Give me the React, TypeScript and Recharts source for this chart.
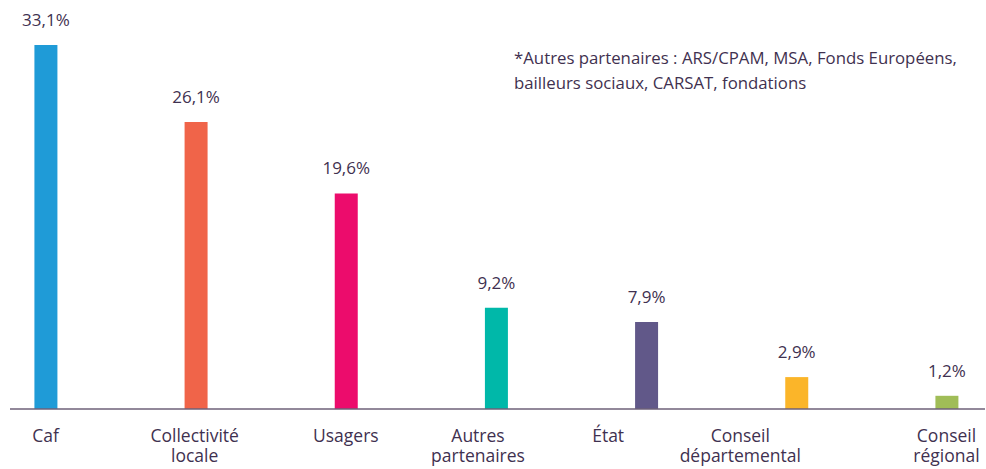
import { Bar, BarChart, Cell, LabelList, XAxis, YAxis } from 'recharts';

const categories = [
  ['Caf'],
  ['Collectivité', 'locale'],
  ['Usagers'],
  ['Autres', 'partenaires'],
  ['État'],
  ['Conseil', 'départemental'],
  ['Conseil', 'régional'],
];
const shares = [33.1, 26.1, 19.6, 9.2, 7.9, 2.9, 1.2];
const colors = ['#1f9bd7', '#f06449', '#ec0c6c', '#00b8a9', '#615889', '#fbb529', '#a0bd57'];
const note = [
  '*Autres partenaires : ARS/CPAM, MSA, Fonds Européens,',
  'bailleurs sociaux, CARSAT, fondations',
];

const data = shares.map((v, i) => ({ idx: i, value: v }));

const TEXT = '#3f3150';
const FONT = '"Open Sans", sans-serif';
// labels in the source are nudged left of their bars
const labelShift = [0, -1, 0, -18, -38, -56, 0];

function Tick(props: any) {
  const { x, y, payload } = props;
  const i = payload.value as number;
  const lines = categories[i] || [];
  return (
    <text x={x + labelShift[i]} y={y} textAnchor="middle" fill={TEXT} fontSize={17.5} fontFamily={FONT}>
      {lines.map((l, k) => (
        <tspan key={k} x={x + labelShift[i]} dy={k === 0 ? 25 : 20}>
          {l}
        </tspan>
      ))}
    </text>
  );
}

export default function App() {
  return (
    <div style={{ position: 'absolute', left: 0, top: 0, width: 986, height: 469, background: '#fff' }}>
      <BarChart width={986} height={469} data={data} margin={{ top: 24, right: 1, bottom: 0, left: 10 }}>
        <XAxis
          type="number"
          dataKey="idx"
          domain={[-0.2364, 6.2564]}
          allowDataOverflow
          ticks={[0, 1, 2, 3, 4, 5, 6]}
          interval={0}
          height={60}
          tickLine={false}
          axisLine={{ stroke: '#6e6079', strokeWidth: 1.5 }}
          tick={<Tick />}
        />
        <YAxis hide domain={[0, 35]} allowDataOverflow />
        <Bar dataKey="value" barSize={23} isAnimationActive={false}>
          {data.map((d, i) => (
            <Cell key={i} fill={colors[i]} />
          ))}
          <LabelList
            dataKey="value"
            position="top"
            offset={19}
            fill={TEXT}
            fontSize={17}
            fontFamily={FONT}
            formatter={(v: any) => Number(v).toFixed(1).replace('.', ',') + '%'}
          />
        </Bar>
      </BarChart>
      <div
        style={{
          position: 'absolute',
          left: 514,
          top: 45,
          fontFamily: FONT,
          fontSize: 16.8,
          lineHeight: '25px',
          color: TEXT,
          whiteSpace: 'nowrap',
        }}
      >
        {note.map((l, i) => (
          <div key={i}>{l}</div>
        ))}
      </div>
    </div>
  );
}
